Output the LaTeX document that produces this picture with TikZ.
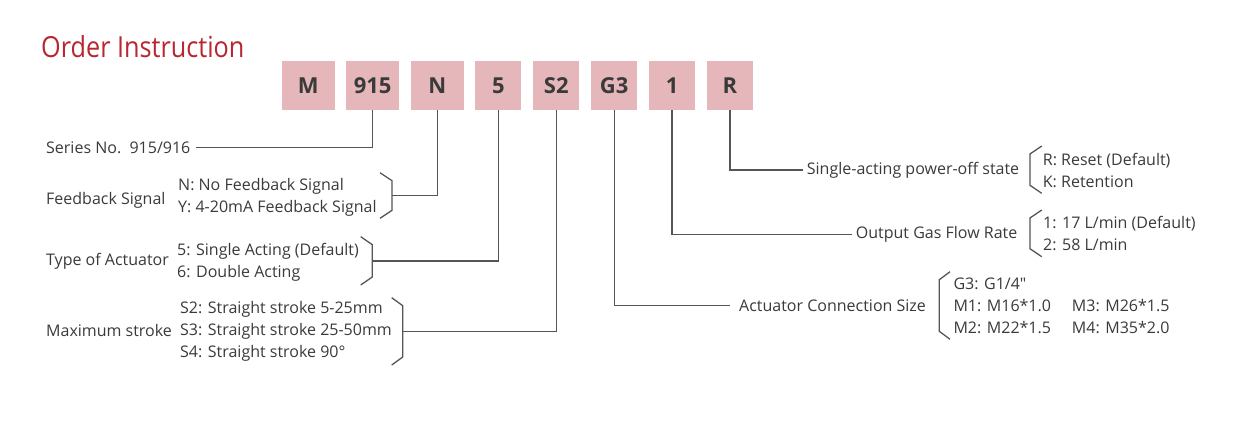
\documentclass[tikz,border=0pt]{standalone}
\usepackage{fontspec}
\setmainfont{Open Sans}[Ligatures=TeXOff]
\newfontfamily\titlefont[FakeStretch=0.87]{Open Sans}
\usepackage{xcolor}
\usetikzlibrary{positioning}

\definecolor{titlered}{HTML}{B8262F}
\definecolor{codepink}{HTML}{E5B7BA}
\definecolor{txtgray}{HTML}{3A3A3A}
\definecolor{linegray}{HTML}{555555}

\tikzset{
  codebox/.style={fill=codepink, minimum width=46pt, minimum height=49pt, inner sep=0pt,
    text=txtgray, font=\fontsize{22}{26}\selectfont\bfseries},
  lbl/.style={inner sep=0pt, text=txtgray, font=\fontsize{16}{22}\selectfont, anchor=west},
  opts/.style={lbl, align=left},
  conn/.style={draw=linegray, line width=1.3pt},
}

\begin{document}
\begin{tikzpicture}[x=1pt, y=-1pt, node distance=11.5pt]
    \useasboundingbox (0,0) rectangle (1258,428);

    % Title
    \node[anchor=base west, inner sep=0pt, text=titlered,
      font=\titlefont\fontsize{29}{32}\selectfont] (title) at (41,58) {Order Instruction};

    % Code boxes
    \node[codebox, minimum width=52.6pt, anchor=west] (codeM) at (281.7,85.5) {M};
    \node[codebox, minimum width=52.6pt, right=of codeM] (code915) {915};
    \node[codebox, minimum width=52.6pt, right=of code915] (codeN) {N};
    \node[codebox, right=of codeN] (code5) {5};
    \node[codebox, right=of code5] (codeS2) {S2};
    \node[codebox, right=of codeS2] (codeG3) {G3};
    \node[codebox, right=of codeG3] (code1) {1};
    \node[codebox, right=of code1] (codeR) {R};

    % Left side labels and options
    \node[lbl] (series) at (46,147.3) {Series No.~~915/916};
    \node[lbl] (feedback) at (46,200) {Feedback Signal};
    \node[opts] (fbopts) at (178,197) {N: No Feedback Signal\\Y: 4-20mA Feedback Signal};
    \node[lbl] (actuator) at (46,261.7) {Type of Actuator};
    \node[opts] (actopts) at (177,261.8) {5: Single Acting (Default)\\6: Double Acting};
    \node[lbl] (stroke) at (46,330) {Maximum stroke};
    \node[opts] (strokeopts) at (180,331.7) {S2: Straight stroke 5-25mm\\S3: Straight stroke 25-50mm\\S4: Straight stroke 90°};

    % Right side labels and options
    \node[lbl] (state) at (806.7,170) {Single-acting power-off state};
    \node[opts] (stateopts) at (1042.7,170.8) {R: Reset (Default)\\K: Retention};
    \node[lbl] (flow) at (855.7,234.3) {Output Gas Flow Rate};
    \node[opts] (flowopts) at (1043,233.8) {1: 17 L/min (Default)\\2: 58 L/min};
    \node[lbl] (connsize) at (739,305.7) {Actuator Connection Size};
    \node[opts] (connopts) at (953.3,305.5) {G3: G1/4"\\
      \makebox[118.4pt][l]{M1: M16*1.0}M3: M26*1.5\\
      \makebox[118.4pt][l]{M2: M22*1.5}M4: M35*2.0};

    % Brackets
    \draw[conn] (380,172.7) -- (392,180.7) -- (392,210.3) -- (380,218.3);
    \draw[conn] (360.7,236.7) -- (372.3,244.7) -- (372.3,277) -- (360.7,285);
    \draw[conn] (391.7,297.7) -- (402.7,305.7) -- (402.7,357) -- (391.7,365);
    \draw[conn] (1041.7,146) -- (1030,154) -- (1030,185.3) -- (1041.7,193.3);
    \draw[conn] (1041.7,210) -- (1030,218) -- (1030,248.7) -- (1041.7,256.7);
    \draw[conn] (950,271.7) -- (939.3,279.7) -- (939.3,331.3) -- (950,339.3);
    \coordinate (fbjoin) at (392,195.7);
    \coordinate (actjoin) at (372.3,261);
    \coordinate (strokejoin) at (402.7,331.7);

    % Connectors
    \draw[conn] (code915.south) |- ([xshift=5pt]series.east);
    \draw[conn] (codeN.south) |- (fbjoin);
    \draw[conn] (code5.south) |- (actjoin);
    \draw[conn] (codeS2.south) |- (strokejoin);
    \draw[conn] (codeG3.south) |- ([xshift=-9pt]connsize.west);
    \draw[conn] (code1.south) |- ([xshift=-4pt]flow.west);
    \draw[conn] (codeR.south) |- ([xshift=-4pt]state.west);
\end{tikzpicture}
\end{document}
